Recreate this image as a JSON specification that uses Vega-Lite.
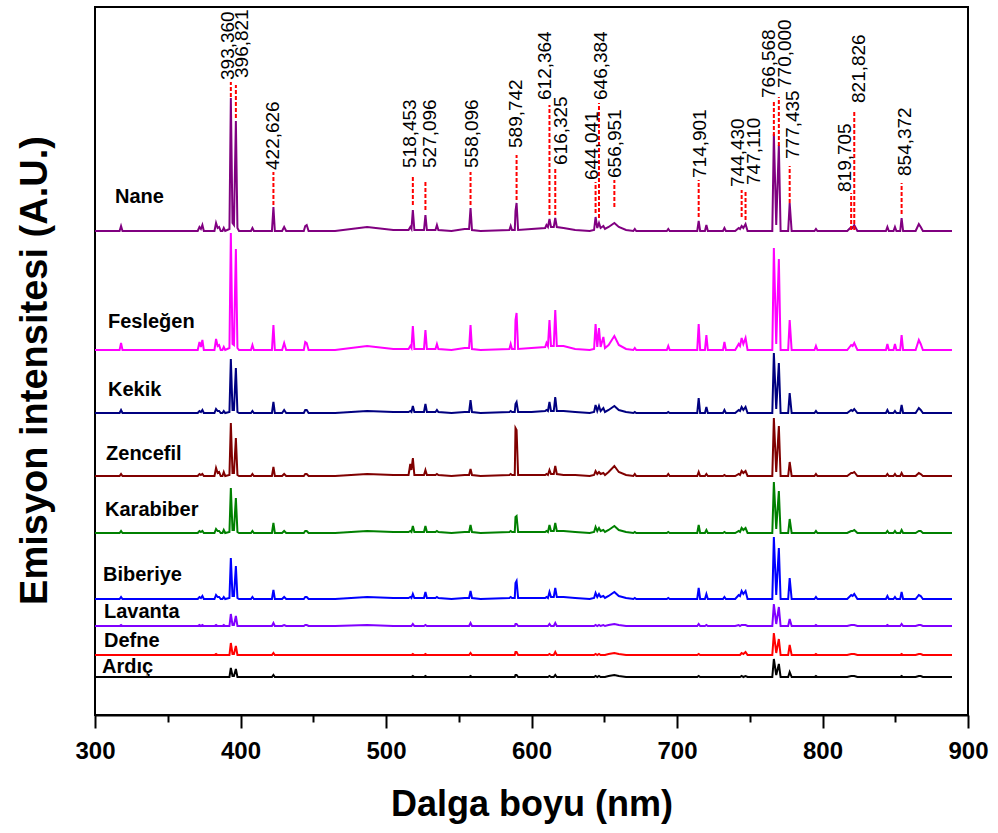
{
"$schema": "https://vega.github.io/schema/vega-lite/v6.json",
"width": 873,
"height": 708,
"autosize": {"type": "none"},
"padding": {"left": 95, "top": 7, "right": 30, "bottom": 118},
"background": "white",
"config": {"view": {"stroke": "black", "strokeWidth": 2}, "font": "Liberation Sans"},
"datasets": {
"spectra": [
{"w":300,"Nane":484,"Fesleğen":365,"Kekik":302,"Zencefil":239,"Karabiber":182,"Biberiye":116,"Lavanta":89,"Defne":60,"Ardıç":38},
{"w":316.9,"Nane":484,"Fesleğen":365,"Kekik":302,"Zencefil":239,"Karabiber":182,"Biberiye":116,"Lavanta":89,"Defne":60,"Ardıç":38},
{"w":317.9,"Nane":489,"Fesleğen":372,"Kekik":305,"Zencefil":241,"Karabiber":184,"Biberiye":118,"Lavanta":90,"Defne":60,"Ardıç":38},
{"w":318.9,"Nane":484,"Fesleğen":365,"Kekik":302,"Zencefil":239,"Karabiber":182,"Biberiye":116,"Lavanta":89,"Defne":60,"Ardıç":38},
{"w":370.6,"Nane":484,"Fesleğen":365,"Kekik":302,"Zencefil":239,"Karabiber":182,"Biberiye":116,"Lavanta":89,"Defne":60,"Ardıç":38},
{"w":371.8,"Nane":488,"Fesleğen":373,"Kekik":304,"Zencefil":241,"Karabiber":184,"Biberiye":118,"Lavanta":90,"Defne":60,"Ardıç":38},
{"w":372.8,"Nane":486,"Fesleğen":368,"Kekik":303,"Zencefil":240,"Karabiber":183,"Biberiye":117,"Lavanta":89,"Defne":60,"Ardıç":38},
{"w":373.8,"Nane":490,"Fesleğen":375,"Kekik":305,"Zencefil":241,"Karabiber":184,"Biberiye":119,"Lavanta":90,"Defne":60,"Ardıç":38},
{"w":374.8,"Nane":484,"Fesleğen":365,"Kekik":302,"Zencefil":239,"Karabiber":182,"Biberiye":116,"Lavanta":89,"Defne":60,"Ardıç":38},
{"w":382.1,"Nane":484,"Fesleğen":365,"Kekik":302,"Zencefil":239,"Karabiber":182,"Biberiye":116,"Lavanta":89,"Defne":60,"Ardıç":38},
{"w":383.2,"Nane":492,"Fesleğen":376,"Kekik":306,"Zencefil":247,"Karabiber":186,"Biberiye":120,"Lavanta":90,"Defne":61,"Ardıç":38},
{"w":384.3,"Nane":487,"Fesleğen":369,"Kekik":304,"Zencefil":242,"Karabiber":184,"Biberiye":118,"Lavanta":89,"Defne":60,"Ardıç":38},
{"w":385.3,"Nane":488,"Fesleğen":370,"Kekik":304,"Zencefil":243,"Karabiber":184,"Biberiye":118,"Lavanta":89,"Defne":60,"Ardıç":38},
{"w":386.4,"Nane":484,"Fesleğen":365,"Kekik":302,"Zencefil":239,"Karabiber":182,"Biberiye":116,"Lavanta":89,"Defne":60,"Ardıç":38},
{"w":387.6,"Nane":484,"Fesleğen":365,"Kekik":302,"Zencefil":239,"Karabiber":182,"Biberiye":116,"Lavanta":89,"Defne":60,"Ardıç":38},
{"w":388.5,"Nane":487,"Fesleğen":368,"Kekik":304,"Zencefil":243,"Karabiber":185,"Biberiye":118,"Lavanta":90,"Defne":60,"Ardıç":38},
{"w":389.5,"Nane":484,"Fesleğen":365,"Kekik":302,"Zencefil":239,"Karabiber":182,"Biberiye":116,"Lavanta":89,"Defne":60,"Ardıç":38},
{"w":392.4,"Nane":486,"Fesleğen":367,"Kekik":303,"Zencefil":240,"Karabiber":183,"Biberiye":117,"Lavanta":89,"Defne":60,"Ardıç":38},
{"w":393.36,"Nane":617,"Fesleğen":482,"Kekik":356,"Zencefil":292,"Karabiber":227,"Biberiye":157,"Lavanta":101,"Defne":72,"Ardıç":47},
{"w":394.5,"Nane":492,"Fesleğen":371,"Kekik":305,"Zencefil":242,"Karabiber":185,"Biberiye":119,"Lavanta":90,"Defne":61,"Ardıç":39},
{"w":395.5,"Nane":490,"Fesleğen":370,"Kekik":305,"Zencefil":242,"Karabiber":185,"Biberiye":119,"Lavanta":90,"Defne":61,"Ardıç":39},
{"w":396.82,"Nane":594,"Fesleğen":466,"Kekik":347,"Zencefil":277,"Karabiber":217,"Biberiye":149,"Lavanta":99,"Defne":69,"Ardıç":46},
{"w":397.9,"Nane":487,"Fesleğen":367,"Kekik":303,"Zencefil":240,"Karabiber":183,"Biberiye":117,"Lavanta":89,"Defne":60,"Ardıç":38},
{"w":399,"Nane":484,"Fesleğen":365,"Kekik":302,"Zencefil":239,"Karabiber":182,"Biberiye":116,"Lavanta":89,"Defne":60,"Ardıç":38},
{"w":407.2,"Nane":484,"Fesleğen":365,"Kekik":302,"Zencefil":239,"Karabiber":182,"Biberiye":116,"Lavanta":89,"Defne":60,"Ardıç":38},
{"w":408.2,"Nane":487,"Fesleğen":370,"Kekik":304,"Zencefil":241,"Karabiber":184,"Biberiye":118,"Lavanta":89,"Defne":60,"Ardıç":38},
{"w":409.2,"Nane":484,"Fesleğen":365,"Kekik":302,"Zencefil":239,"Karabiber":182,"Biberiye":116,"Lavanta":89,"Defne":60,"Ardıç":38},
{"w":421.6,"Nane":484,"Fesleğen":365,"Kekik":302,"Zencefil":239,"Karabiber":182,"Biberiye":116,"Lavanta":89,"Defne":60,"Ardıç":38},
{"w":422.63,"Nane":508,"Fesleğen":390,"Kekik":313,"Zencefil":248,"Karabiber":192,"Biberiye":125,"Lavanta":92,"Defne":62,"Ardıç":40},
{"w":423.6,"Nane":484,"Fesleğen":365,"Kekik":302,"Zencefil":239,"Karabiber":182,"Biberiye":116,"Lavanta":89,"Defne":60,"Ardıç":38},
{"w":428.6,"Nane":484,"Fesleğen":365,"Kekik":302,"Zencefil":239,"Karabiber":182,"Biberiye":116,"Lavanta":89,"Defne":60,"Ardıç":38},
{"w":430,"Nane":488,"Fesleğen":372,"Kekik":305,"Zencefil":241,"Karabiber":184,"Biberiye":118,"Lavanta":90,"Defne":60,"Ardıç":38},
{"w":431.4,"Nane":484,"Fesleğen":365,"Kekik":302,"Zencefil":239,"Karabiber":182,"Biberiye":116,"Lavanta":89,"Defne":60,"Ardıç":38},
{"w":443.5,"Nane":484,"Fesleğen":365,"Kekik":302,"Zencefil":239,"Karabiber":182,"Biberiye":116,"Lavanta":89,"Defne":60,"Ardıç":38},
{"w":444.5,"Nane":489,"Fesleğen":373,"Kekik":305,"Zencefil":241,"Karabiber":184,"Biberiye":118,"Lavanta":90,"Defne":60,"Ardıç":38},
{"w":445.5,"Nane":490,"Fesleğen":372,"Kekik":305,"Zencefil":241,"Karabiber":184,"Biberiye":118,"Lavanta":90,"Defne":60,"Ardıç":38},
{"w":446.8,"Nane":484,"Fesleğen":365,"Kekik":302,"Zencefil":239,"Karabiber":182,"Biberiye":116,"Lavanta":89,"Defne":60,"Ardıç":38},
{"w":465,"Nane":484,"Fesleğen":365,"Kekik":302,"Zencefil":239,"Karabiber":182,"Biberiye":116,"Lavanta":89,"Defne":60,"Ardıç":38},
{"w":487,"Nane":488,"Fesleğen":369,"Kekik":304,"Zencefil":241,"Karabiber":184,"Biberiye":118,"Lavanta":90,"Defne":60,"Ardıç":38},
{"w":505,"Nane":485,"Fesleğen":366,"Kekik":303,"Zencefil":240,"Karabiber":183,"Biberiye":117,"Lavanta":89,"Defne":60,"Ardıç":38},
{"w":515.5,"Nane":485,"Fesleğen":366,"Kekik":303,"Zencefil":240,"Karabiber":183,"Biberiye":117,"Lavanta":89,"Defne":60,"Ardıç":38},
{"w":516.7,"Nane":488,"Fesleğen":369,"Kekik":304,"Zencefil":251,"Karabiber":184,"Biberiye":118,"Lavanta":89,"Defne":60,"Ardıç":38},
{"w":517.5,"Nane":486,"Fesleğen":367,"Kekik":303,"Zencefil":245,"Karabiber":183,"Biberiye":117,"Lavanta":89,"Defne":60,"Ardıç":38},
{"w":518.45,"Nane":505,"Fesleğen":389,"Kekik":309,"Zencefil":257,"Karabiber":189,"Biberiye":121,"Lavanta":91,"Defne":61,"Ardıç":39},
{"w":519.5,"Nane":485,"Fesleğen":366,"Kekik":303,"Zencefil":240,"Karabiber":183,"Biberiye":117,"Lavanta":89,"Defne":60,"Ardıç":38},
{"w":526.1,"Nane":485,"Fesleğen":366,"Kekik":303,"Zencefil":240,"Karabiber":183,"Biberiye":117,"Lavanta":89,"Defne":60,"Ardıç":38},
{"w":527.1,"Nane":500,"Fesleğen":385,"Kekik":311,"Zencefil":245,"Karabiber":189,"Biberiye":123,"Lavanta":90,"Defne":61,"Ardıç":39},
{"w":528.1,"Nane":485,"Fesleğen":366,"Kekik":303,"Zencefil":240,"Karabiber":183,"Biberiye":117,"Lavanta":89,"Defne":60,"Ardıç":38},
{"w":534,"Nane":485,"Fesleğen":366,"Kekik":303,"Zencefil":240,"Karabiber":183,"Biberiye":117,"Lavanta":89,"Defne":60,"Ardıç":38},
{"w":535,"Nane":490,"Fesleğen":371,"Kekik":305,"Zencefil":241,"Karabiber":184,"Biberiye":118,"Lavanta":89,"Defne":60,"Ardıç":38},
{"w":536,"Nane":485,"Fesleğen":366,"Kekik":303,"Zencefil":240,"Karabiber":183,"Biberiye":117,"Lavanta":89,"Defne":60,"Ardıç":38},
{"w":545,"Nane":484,"Fesleğen":365,"Kekik":302,"Zencefil":239,"Karabiber":182,"Biberiye":116,"Lavanta":89,"Defne":60,"Ardıç":38},
{"w":554,"Nane":486,"Fesleğen":367,"Kekik":303,"Zencefil":240,"Karabiber":183,"Biberiye":117,"Lavanta":89,"Defne":60,"Ardıç":38},
{"w":557.1,"Nane":486,"Fesleğen":367,"Kekik":303,"Zencefil":240,"Karabiber":183,"Biberiye":117,"Lavanta":89,"Defne":60,"Ardıç":38},
{"w":558.1,"Nane":507,"Fesleğen":390,"Kekik":315,"Zencefil":246,"Karabiber":190,"Biberiye":124,"Lavanta":92,"Defne":62,"Ardıç":39},
{"w":559.1,"Nane":485,"Fesleğen":366,"Kekik":303,"Zencefil":240,"Karabiber":183,"Biberiye":117,"Lavanta":89,"Defne":60,"Ardıç":38},
{"w":565,"Nane":484,"Fesleğen":365,"Kekik":302,"Zencefil":239,"Karabiber":182,"Biberiye":116,"Lavanta":89,"Defne":60,"Ardıç":38},
{"w":584.8,"Nane":485,"Fesleğen":366,"Kekik":303,"Zencefil":240,"Karabiber":183,"Biberiye":117,"Lavanta":89,"Defne":60,"Ardıç":38},
{"w":585.7,"Nane":489,"Fesleğen":371,"Kekik":304,"Zencefil":241,"Karabiber":184,"Biberiye":118,"Lavanta":89,"Defne":60,"Ardıç":38},
{"w":586.6,"Nane":485,"Fesleğen":366,"Kekik":303,"Zencefil":240,"Karabiber":183,"Biberiye":117,"Lavanta":89,"Defne":60,"Ardıç":38},
{"w":588.5,"Nane":485,"Fesleğen":366,"Kekik":303,"Zencefil":240,"Karabiber":183,"Biberiye":117,"Lavanta":89,"Defne":60,"Ardıç":38},
{"w":589.0,"Nane":504,"Fesleğen":395,"Kekik":311,"Zencefil":287,"Karabiber":198,"Biberiye":132,"Lavanta":91,"Defne":63,"Ardıç":40},
{"w":589.74,"Nane":512,"Fesleğen":402,"Kekik":313,"Zencefil":285,"Karabiber":199,"Biberiye":134,"Lavanta":91,"Defne":63,"Ardıç":40},
{"w":590.8,"Nane":485,"Fesleğen":366,"Kekik":303,"Zencefil":240,"Karabiber":183,"Biberiye":117,"Lavanta":89,"Defne":60,"Ardıç":38},
{"w":600,"Nane":486,"Fesleğen":367,"Kekik":303,"Zencefil":240,"Karabiber":183,"Biberiye":117,"Lavanta":89,"Defne":60,"Ardıç":38},
{"w":609.4,"Nane":487,"Fesleğen":368,"Kekik":304,"Zencefil":240,"Karabiber":183,"Biberiye":117,"Lavanta":89,"Defne":60,"Ardıç":38},
{"w":610.3,"Nane":490,"Fesleğen":372,"Kekik":305,"Zencefil":241,"Karabiber":184,"Biberiye":118,"Lavanta":89,"Defne":60,"Ardıç":38},
{"w":611.3,"Nane":488,"Fesleğen":369,"Kekik":304,"Zencefil":240,"Karabiber":183,"Biberiye":117,"Lavanta":89,"Defne":60,"Ardıç":38},
{"w":612.36,"Nane":496,"Fesleğen":395,"Kekik":313,"Zencefil":245,"Karabiber":190,"Biberiye":123,"Lavanta":91,"Defne":61,"Ardıç":39},
{"w":613.4,"Nane":488,"Fesleğen":369,"Kekik":304,"Zencefil":241,"Karabiber":184,"Biberiye":118,"Lavanta":89,"Defne":60,"Ardıç":38},
{"w":615.3,"Nane":488,"Fesleğen":369,"Kekik":304,"Zencefil":241,"Karabiber":184,"Biberiye":118,"Lavanta":89,"Defne":60,"Ardıç":38},
{"w":616.33,"Nane":497,"Fesleğen":405,"Kekik":318,"Zencefil":249,"Karabiber":192,"Biberiye":127,"Lavanta":92,"Defne":63,"Ardıç":40},
{"w":617.4,"Nane":488,"Fesleğen":369,"Kekik":304,"Zencefil":241,"Karabiber":184,"Biberiye":118,"Lavanta":89,"Defne":60,"Ardıç":38},
{"w":622,"Nane":487,"Fesleğen":369,"Kekik":304,"Zencefil":240,"Karabiber":184,"Biberiye":118,"Lavanta":89,"Defne":60,"Ardıç":38},
{"w":630,"Nane":485,"Fesleğen":366,"Kekik":303,"Zencefil":240,"Karabiber":183,"Biberiye":117,"Lavanta":89,"Defne":60,"Ardıç":38},
{"w":640,"Nane":484,"Fesleğen":365,"Kekik":302,"Zencefil":239,"Karabiber":182,"Biberiye":116,"Lavanta":89,"Defne":60,"Ardıç":38},
{"w":643.0,"Nane":485,"Fesleğen":366,"Kekik":303,"Zencefil":240,"Karabiber":183,"Biberiye":117,"Lavanta":89,"Defne":60,"Ardıç":38},
{"w":644.04,"Nane":498,"Fesleğen":391,"Kekik":310,"Zencefil":244,"Karabiber":188,"Biberiye":122,"Lavanta":90,"Defne":61,"Ardıç":39},
{"w":645.2,"Nane":487,"Fesleğen":368,"Kekik":304,"Zencefil":241,"Karabiber":184,"Biberiye":118,"Lavanta":89,"Defne":60,"Ardıç":38},
{"w":646.38,"Nane":492,"Fesleğen":387,"Kekik":309,"Zencefil":243,"Karabiber":187,"Biberiye":121,"Lavanta":90,"Defne":61,"Ardıç":39},
{"w":647.5,"Nane":487,"Fesleğen":368,"Kekik":304,"Zencefil":241,"Karabiber":184,"Biberiye":118,"Lavanta":89,"Defne":60,"Ardıç":38},
{"w":649.4,"Nane":489,"Fesleğen":378,"Kekik":307,"Zencefil":242,"Karabiber":185,"Biberiye":119,"Lavanta":90,"Defne":60,"Ardıç":38},
{"w":650.5,"Nane":486,"Fesleğen":367,"Kekik":303,"Zencefil":240,"Karabiber":183,"Biberiye":117,"Lavanta":89,"Defne":60,"Ardıç":38},
{"w":653,"Nane":488,"Fesleğen":370,"Kekik":305,"Zencefil":243,"Karabiber":185,"Biberiye":119,"Lavanta":90,"Defne":61,"Ardıç":39},
{"w":656.95,"Nane":492,"Fesleğen":379,"Kekik":309,"Zencefil":249,"Karabiber":189,"Biberiye":123,"Lavanta":91,"Defne":62,"Ardıç":40},
{"w":660,"Nane":488,"Fesleğen":370,"Kekik":305,"Zencefil":243,"Karabiber":185,"Biberiye":119,"Lavanta":90,"Defne":61,"Ardıç":39},
{"w":665,"Nane":485,"Fesleğen":366,"Kekik":303,"Zencefil":240,"Karabiber":183,"Biberiye":117,"Lavanta":89,"Defne":60,"Ardıç":38},
{"w":670,"Nane":484,"Fesleğen":365,"Kekik":302,"Zencefil":239,"Karabiber":182,"Biberiye":116,"Lavanta":89,"Defne":60,"Ardıç":38},
{"w":671,"Nane":486,"Fesleğen":367,"Kekik":303,"Zencefil":241,"Karabiber":183,"Biberiye":117,"Lavanta":89,"Defne":60,"Ardıç":38},
{"w":672,"Nane":484,"Fesleğen":365,"Kekik":302,"Zencefil":239,"Karabiber":182,"Biberiye":116,"Lavanta":89,"Defne":60,"Ardıç":38},
{"w":693,"Nane":484,"Fesleğen":365,"Kekik":302,"Zencefil":239,"Karabiber":182,"Biberiye":116,"Lavanta":89,"Defne":60,"Ardıç":38},
{"w":694,"Nane":486,"Fesleğen":369,"Kekik":303,"Zencefil":241,"Karabiber":183,"Biberiye":117,"Lavanta":89,"Defne":60,"Ardıç":38},
{"w":695,"Nane":484,"Fesleğen":365,"Kekik":302,"Zencefil":239,"Karabiber":182,"Biberiye":116,"Lavanta":89,"Defne":60,"Ardıç":38},
{"w":713.9,"Nane":484,"Fesleğen":365,"Kekik":302,"Zencefil":239,"Karabiber":182,"Biberiye":116,"Lavanta":89,"Defne":60,"Ardıç":38},
{"w":714.9,"Nane":494,"Fesleğen":391,"Kekik":317,"Zencefil":243,"Karabiber":190,"Biberiye":127,"Lavanta":91,"Defne":61,"Ardıç":39},
{"w":715.9,"Nane":484,"Fesleğen":365,"Kekik":302,"Zencefil":239,"Karabiber":182,"Biberiye":116,"Lavanta":89,"Defne":60,"Ardıç":38},
{"w":719.2,"Nane":484,"Fesleğen":365,"Kekik":302,"Zencefil":239,"Karabiber":182,"Biberiye":116,"Lavanta":89,"Defne":60,"Ardıç":38},
{"w":720.2,"Nane":490,"Fesleğen":380,"Kekik":308,"Zencefil":241,"Karabiber":185,"Biberiye":121,"Lavanta":90,"Defne":60,"Ardıç":38},
{"w":721.2,"Nane":484,"Fesleğen":365,"Kekik":302,"Zencefil":239,"Karabiber":182,"Biberiye":116,"Lavanta":89,"Defne":60,"Ardıç":38},
{"w":731.6,"Nane":484,"Fesleğen":365,"Kekik":302,"Zencefil":239,"Karabiber":182,"Biberiye":116,"Lavanta":89,"Defne":60,"Ardıç":38},
{"w":732.6,"Nane":487,"Fesleğen":373,"Kekik":305,"Zencefil":240,"Karabiber":183,"Biberiye":118,"Lavanta":89,"Defne":60,"Ardıç":38},
{"w":733.6,"Nane":484,"Fesleğen":365,"Kekik":302,"Zencefil":239,"Karabiber":182,"Biberiye":116,"Lavanta":89,"Defne":60,"Ardıç":38},
{"w":740,"Nane":484,"Fesleğen":365,"Kekik":302,"Zencefil":239,"Karabiber":182,"Biberiye":116,"Lavanta":89,"Defne":60,"Ardıç":38},
{"w":742.4,"Nane":487,"Fesleğen":371,"Kekik":305,"Zencefil":241,"Karabiber":184,"Biberiye":120,"Lavanta":90,"Defne":60,"Ardıç":38},
{"w":743.3,"Nane":486,"Fesleğen":369,"Kekik":304,"Zencefil":240,"Karabiber":183,"Biberiye":119,"Lavanta":89,"Defne":60,"Ardıç":38},
{"w":744.43,"Nane":489,"Fesleğen":377,"Kekik":308,"Zencefil":244,"Karabiber":187,"Biberiye":124,"Lavanta":90,"Defne":62,"Ardıç":39},
{"w":745.6,"Nane":487,"Fesleğen":371,"Kekik":305,"Zencefil":242,"Karabiber":185,"Biberiye":121,"Lavanta":90,"Defne":61,"Ardıç":38},
{"w":747.11,"Nane":491,"Fesleğen":377,"Kekik":308,"Zencefil":244,"Karabiber":187,"Biberiye":124,"Lavanta":90,"Defne":63,"Ardıç":39},
{"w":748.5,"Nane":484,"Fesleğen":365,"Kekik":302,"Zencefil":239,"Karabiber":182,"Biberiye":116,"Lavanta":89,"Defne":60,"Ardıç":38},
{"w":765.5,"Nane":484,"Fesleğen":365,"Kekik":302,"Zencefil":239,"Karabiber":182,"Biberiye":116,"Lavanta":89,"Defne":60,"Ardıç":38},
{"w":766.57,"Nane":581,"Fesleğen":467,"Kekik":362,"Zencefil":297,"Karabiber":233,"Biberiye":178,"Lavanta":111,"Defne":82,"Ardıç":56},
{"w":768.2,"Nane":490,"Fesleğen":371,"Kekik":306,"Zencefil":243,"Karabiber":186,"Biberiye":120,"Lavanta":91,"Defne":62,"Ardıç":40},
{"w":770.0,"Nane":570,"Fesleğen":456,"Kekik":352,"Zencefil":289,"Karabiber":224,"Biberiye":167,"Lavanta":108,"Defne":76,"Ardıç":51},
{"w":771.2,"Nane":484,"Fesleğen":365,"Kekik":302,"Zencefil":239,"Karabiber":182,"Biberiye":116,"Lavanta":89,"Defne":60,"Ardıç":38},
{"w":776.4,"Nane":484,"Fesleğen":365,"Kekik":302,"Zencefil":239,"Karabiber":182,"Biberiye":116,"Lavanta":89,"Defne":60,"Ardıç":38},
{"w":777.44,"Nane":512,"Fesleğen":395,"Kekik":322,"Zencefil":253,"Karabiber":196,"Biberiye":137,"Lavanta":96,"Defne":70,"Ardıç":43},
{"w":778.8,"Nane":484,"Fesleğen":365,"Kekik":302,"Zencefil":239,"Karabiber":182,"Biberiye":116,"Lavanta":89,"Defne":60,"Ardıç":38},
{"w":794.5,"Nane":484,"Fesleğen":365,"Kekik":302,"Zencefil":239,"Karabiber":182,"Biberiye":116,"Lavanta":89,"Defne":60,"Ardıç":38},
{"w":795.5,"Nane":486,"Fesleğen":369,"Kekik":304,"Zencefil":241,"Karabiber":184,"Biberiye":118,"Lavanta":90,"Defne":61,"Ardıç":39},
{"w":796.5,"Nane":484,"Fesleğen":365,"Kekik":302,"Zencefil":239,"Karabiber":182,"Biberiye":116,"Lavanta":89,"Defne":60,"Ardıç":38},
{"w":817,"Nane":484,"Fesleğen":365,"Kekik":302,"Zencefil":239,"Karabiber":182,"Biberiye":116,"Lavanta":89,"Defne":60,"Ardıç":38},
{"w":819.7,"Nane":488,"Fesleğen":370,"Kekik":305,"Zencefil":242,"Karabiber":184,"Biberiye":120,"Lavanta":90,"Defne":61,"Ardıç":39},
{"w":820.7,"Nane":487,"Fesleğen":369,"Kekik":304,"Zencefil":242,"Karabiber":184,"Biberiye":119,"Lavanta":90,"Defne":61,"Ardıç":39},
{"w":821.83,"Nane":490,"Fesleğen":372,"Kekik":306,"Zencefil":243,"Karabiber":185,"Biberiye":121,"Lavanta":90,"Defne":61,"Ardıç":39},
{"w":824,"Nane":484,"Fesleğen":365,"Kekik":302,"Zencefil":239,"Karabiber":182,"Biberiye":116,"Lavanta":89,"Defne":60,"Ardıç":38},
{"w":843.6,"Nane":484,"Fesleğen":365,"Kekik":302,"Zencefil":239,"Karabiber":182,"Biberiye":116,"Lavanta":89,"Defne":60,"Ardıç":38},
{"w":844.6,"Nane":488,"Fesleğen":371,"Kekik":305,"Zencefil":241,"Karabiber":184,"Biberiye":119,"Lavanta":90,"Defne":60,"Ardıç":38},
{"w":845.6,"Nane":484,"Fesleğen":365,"Kekik":302,"Zencefil":239,"Karabiber":182,"Biberiye":116,"Lavanta":89,"Defne":60,"Ardıç":38},
{"w":848.8,"Nane":484,"Fesleğen":365,"Kekik":302,"Zencefil":239,"Karabiber":182,"Biberiye":116,"Lavanta":89,"Defne":60,"Ardıç":38},
{"w":849.8,"Nane":488,"Fesleğen":371,"Kekik":304,"Zencefil":241,"Karabiber":184,"Biberiye":118,"Lavanta":89,"Defne":60,"Ardıç":38},
{"w":850.8,"Nane":484,"Fesleğen":365,"Kekik":302,"Zencefil":239,"Karabiber":182,"Biberiye":116,"Lavanta":89,"Defne":60,"Ardıç":38},
{"w":853.4,"Nane":484,"Fesleğen":365,"Kekik":302,"Zencefil":239,"Karabiber":182,"Biberiye":116,"Lavanta":89,"Defne":60,"Ardıç":38},
{"w":854.37,"Nane":497,"Fesleğen":380,"Kekik":310,"Zencefil":242,"Karabiber":185,"Biberiye":123,"Lavanta":91,"Defne":61,"Ardıç":39},
{"w":855.4,"Nane":484,"Fesleğen":365,"Kekik":302,"Zencefil":239,"Karabiber":182,"Biberiye":116,"Lavanta":89,"Defne":60,"Ardıç":38},
{"w":864,"Nane":484,"Fesleğen":365,"Kekik":302,"Zencefil":239,"Karabiber":182,"Biberiye":116,"Lavanta":89,"Defne":60,"Ardıç":38},
{"w":866.2,"Nane":491,"Fesleğen":375,"Kekik":307,"Zencefil":242,"Karabiber":184,"Biberiye":120,"Lavanta":90,"Defne":61,"Ardıç":39},
{"w":867.5,"Nane":488,"Fesleğen":371,"Kekik":305,"Zencefil":241,"Karabiber":184,"Biberiye":119,"Lavanta":90,"Defne":61,"Ardıç":39},
{"w":869,"Nane":484,"Fesleğen":365,"Kekik":302,"Zencefil":239,"Karabiber":182,"Biberiye":116,"Lavanta":89,"Defne":60,"Ardıç":38},
{"w":889,"Nane":484,"Fesleğen":365,"Kekik":302,"Zencefil":239,"Karabiber":182,"Biberiye":116,"Lavanta":89,"Defne":60,"Ardıç":38}
],
"peaks": [
{"label":"393,360","w":393.36,"lw":391.4,"d0":618,"d1":633,"ly":635},
{"label":"396,821","w":396.82,"lw":401.0,"d0":597,"d1":630,"ly":637},
{"label":"422,626","w":422.63,"lw":422.6,"d0":510,"d1":543,"ly":545},
{"label":"518,453","w":518.45,"lw":516.5,"d0":510,"d1":540,"ly":547},
{"label":"527,096","w":527.1,"lw":529.9,"d0":505,"d1":535,"ly":547},
{"label":"558,096","w":558.1,"lw":559.3,"d0":510,"d1":543,"ly":547},
{"label":"589,742","w":589.74,"lw":589.3,"d0":515,"d1":560,"ly":567},
{"label":"612,364","w":612.36,"lw":609.3,"d0":500,"d1":610,"ly":615},
{"label":"616,325","w":616.33,"lw":620.3,"d0":500,"d1":548,"ly":550},
{"label":"644,041","w":644.04,"lw":641.6,"d0":502,"d1":533,"ly":535},
{"label":"646,384","w":646.38,"lw":647.8,"d0":497,"d1":612,"ly":615},
{"label":"656,951","w":656.95,"lw":657.4,"d0":508,"d1":535,"ly":537},
{"label":"714,901","w":714.9,"lw":715.8,"d0":498,"d1":535,"ly":537},
{"label":"744,430","w":744.43,"lw":742.0,"d0":498,"d1":525,"ly":528},
{"label":"747,110","w":747.11,"lw":752.6,"d0":495,"d1":525,"ly":530},
{"label":"766,568","w":766.57,"lw":762.9,"d0":579,"d1":615,"ly":617},
{"label":"770,000","w":770.0,"lw":774.2,"d0":569,"d1":618,"ly":627},
{"label":"777,435","w":777.44,"lw":779.7,"d0":512,"d1":549,"ly":556},
{"label":"819,705","w":819.7,"lw":815.5,"d0":485,"d1":522,"ly":523},
{"label":"821,826","w":821.83,"lw":825.1,"d0":485,"d1":603,"ly":612},
{"label":"854,372","w":854.37,"lw":856.7,"d0":501,"d1":532,"ly":539}
],
"names": [
{"name":"Nane","x":313.7,"y":518},
{"name":"Fesleğen","x":308.9,"y":393},
{"name":"Kekik","x":308.9,"y":325},
{"name":"Zencefil","x":307.6,"y":261},
{"name":"Karabiber","x":306.9,"y":205},
{"name":"Biberiye","x":305.5,"y":140},
{"name":"Lavanta","x":306.2,"y":103},
{"name":"Defne","x":306.2,"y":74},
{"name":"Ardıç","x":304.8,"y":48}
]
},
"layer": [
{
"data": {"name": "spectra"},
"transform": [{"fold": ["Nane","Fesleğen","Kekik","Zencefil","Karabiber","Biberiye","Lavanta","Defne","Ardıç"], "as": ["sample","intensity"]}],
"mark": {"type": "line", "strokeWidth": 2, "interpolate": "linear"},
"encoding": {
"x": {"field": "w", "type": "quantitative", "title": "Dalga boyu (nm)",
"scale": {"domain": [300, 900], "nice": false, "zero": false},
"axis": {"values": [300,350,400,450,500,550,600,650,700,750,800,850,900],
"labelExpr": "datum.value % 100 === 0 ? datum.label : ''",
"tickSize": {"condition": {"test": "datum.value % 100 === 0", "value": 13}, "value": 7},
"tickWidth": 2, "tickColor": "black", "domainColor": "black", "domainWidth": 2,
"grid": false, "labelFont": "Liberation Sans", "labelFontSize": 24, "labelFontWeight": "bold",
"labelColor": "black", "labelPadding": 11, "labelFlush": false, "labelOverlap": false,
"titleFont": "Liberation Sans", "titleFontSize": 36, "titleFontWeight": "bold", "titleColor": "black", "titlePadding": 24}},
"y": {"field": "intensity", "type": "quantitative", "title": "Emisyon intensitesi (A.U.)",
"scale": {"domain": [0, 708], "nice": false, "zero": false},
"axis": {"labels": false, "ticks": false, "domain": false, "grid": false,
"titleFont": "Liberation Sans", "titleFontSize": 38, "titleFontWeight": "bold", "titleColor": "black", "titlePadding": 41, "titleY": 363}},
"color": {"field": "sample", "type": "nominal", "legend": null,
"scale": {"domain": ["Nane","Fesleğen","Kekik","Zencefil","Karabiber","Biberiye","Lavanta","Defne","Ardıç"],
"range": ["#800080","#ff00ff","#000080","#800000","#008000","#0000ff","#8000ff","#ff0000","#000000"]}}
}
},
{
"data": {"name": "peaks"},
"mark": {"type": "rule", "color": "#ff0000", "strokeDash": [4, 2], "strokeWidth": 2},
"encoding": {
"x": {"field": "w", "type": "quantitative", "title": "Dalga boyu (nm)"},
"y": {"field": "d0", "type": "quantitative", "title": "Emisyon intensitesi (A.U.)"},
"y2": {"field": "d1"}
}
},
{
"data": {"name": "peaks"},
"mark": {"type": "text", "angle": 270, "align": "left", "baseline": "middle", "font": "Liberation Sans", "fontSize": 19, "color": "black"},
"encoding": {
"x": {"field": "lw", "type": "quantitative", "title": "Dalga boyu (nm)"},
"y": {"field": "ly", "type": "quantitative", "title": "Emisyon intensitesi (A.U.)"},
"text": {"field": "label", "type": "nominal"}
}
},
{
"data": {"name": "names"},
"mark": {"type": "text", "align": "left", "baseline": "middle", "font": "Liberation Sans", "fontSize": 20, "fontWeight": "bold", "color": "black"},
"encoding": {
"x": {"field": "x", "type": "quantitative", "title": "Dalga boyu (nm)"},
"y": {"field": "y", "type": "quantitative", "title": "Emisyon intensitesi (A.U.)"},
"text": {"field": "name", "type": "nominal"}
}
}
]
}
